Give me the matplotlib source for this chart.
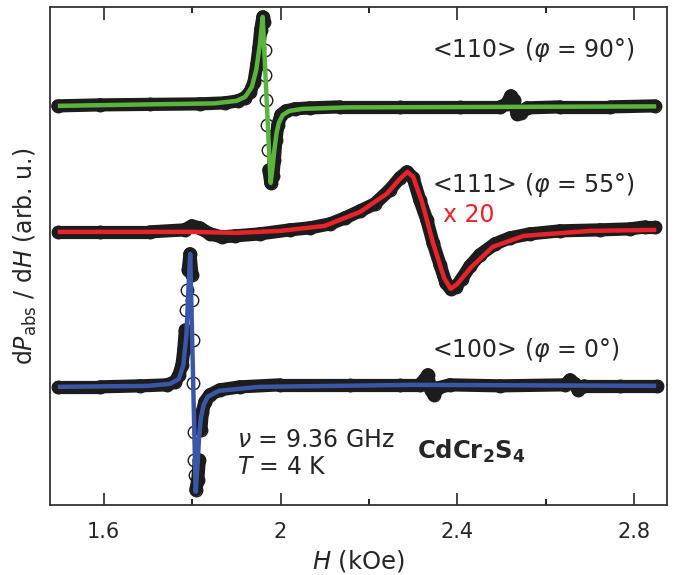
import matplotlib
matplotlib.use("Agg")
import matplotlib.pyplot as plt
from matplotlib.collections import LineCollection
import numpy as np

plt.rcParams['mathtext.fontset'] = 'dejavusans'
plt.rcParams['font.family'] = ['DejaVu Sans']

# ---------------- data ----------------
# <110> (phi = 90 deg), measured
g_H = [1.496, 1.591, 1.704, 1.817, 1.874, 1.903, 1.919, 1.931, 1.940, 1.946, 1.951,
       1.955, 1.960, 1.963, 1.9645, 1.9656, 1.9667, 1.969, 1.9713, 1.9735, 1.978,
       1.9826, 1.986, 1.9894, 1.994, 2.0007, 2.012, 2.0324, 2.066, 2.134, 2.270,
       2.406, 2.497, 2.512, 2.521, 2.528, 2.535, 2.544, 2.558, 2.632, 2.746, 2.847]
g_S = [-1, 0, 0.5, 1, 2, 4, 7, 13, 23, 40, 57,
       75, 88, 83, 55, 30, 5, -20, -45, -65, -78,
       -71, -55, -35, -20, -10, -6, -4, -3, -2, -2,
       -2, -2, 1, 9, 5, -9, -8, -3, -2, -2, -1]
# <110> fit
gf_H = [1.496, 1.70, 1.85, 1.90, 1.92, 1.935, 1.945, 1.953, 1.9595, 1.9775, 1.982,
        1.986, 1.991, 1.996, 2.005, 2.02, 2.05, 2.15, 2.5, 2.85]
gf_S = [-1, 0.5, 1.5, 4, 8, 18, 35, 60, 88, -78, -62,
        -45, -28, -18, -10, -6, -4, -2.5, -2, -1.5]

# <111> (phi = 55 deg), measured (x 20)
r_H = [1.496, 1.591, 1.704, 1.783, 1.799, 1.817, 1.840, 1.867, 1.897, 1.953, 2.021,
       2.066, 2.112, 2.146, 2.180, 2.213, 2.247, 2.270, 2.286, 2.300, 2.315, 2.331,
       2.345, 2.361, 2.374, 2.385, 2.397, 2.410, 2.429, 2.451, 2.485, 2.519, 2.564,
       2.632, 2.723, 2.791, 2.825, 2.848]
r_S = [0, 0, 0, 2, 6, 4, -2, -5, -4, -2, 2,
       4, 8, 14, 21, 28, 42, 54, 60, 54, 32, 12,
       -11, -33, -51, -57, -55, -47, -34, -23, -12, -6, -2,
       1, 2, 3, 5, 5]
# <111> fit
rf_H = [1.496, 1.80, 1.90, 2.00, 2.10, 2.18, 2.24, 2.27, 2.287, 2.30, 2.32, 2.345,
        2.37, 2.385, 2.40, 2.43, 2.48, 2.55, 2.70, 2.85]
rf_S = [0, 0, -1, 1, 6, 20, 38, 53, 60, 55, 30, -11,
        -46, -57, -52, -36, -15, -4, 1, 2]

# <100> (phi = 0 deg), measured
b_H = [1.496, 1.591, 1.682, 1.743, 1.761, 1.770, 1.777, 1.781, 1.7845, 1.787, 1.789,
       1.791, 1.795, 1.7995, 1.8004, 1.8015, 1.8026, 1.8037, 1.8049, 1.806, 1.8082,
       1.8127, 1.816, 1.8196, 1.823, 1.8287, 1.840, 1.8626, 1.908, 1.998, 2.157,
       2.270, 2.315, 2.327, 2.333, 2.340, 2.347, 2.356, 2.383, 2.497, 2.644, 2.655,
       2.666, 2.673, 2.687, 2.768, 2.852]
b_S = [-2, -2, -1, 0, 3, 10, 20, 35, 55, 75, 95,
       115, 131, 110, 85, 45, 2, -47, -75, -90, -105,
       -95, -75, -45, -27, -17, -10, -5, -2, 0, 0,
       0, 0, 6, 10, -5, -10, -3, 0, -1, 0, 5,
       1, -5, -1, -1, -1]
# <100> fit
bf_H = [1.496, 1.70, 1.75, 1.77, 1.78, 1.787, 1.792, 1.7955, 1.808, 1.812, 1.816,
        1.820, 1.826, 1.835, 1.86, 1.95, 2.30, 2.85]
bf_S = [-2, -1, 1, 6, 20, 50, 100, 131, -107, -80, -50,
        -32, -20, -12, -6, -2, 0, -1]

offsets = {'110': 400, '111': 273, '100': 120}
x_ticks = [1.6, 2.0, 2.4, 2.8]
x_tick_labels = ['1.6', '2', '2.4', '2.8']
x_minor = [1.8, 2.2, 2.6]

col_g = '#5ab53d'
col_r = '#e8232b'
col_b = '#3a56a7'
ink = '#262626'
dark = '#1c1c1c'

fig = plt.figure(figsize=(6.74, 5.75), dpi=100)
ax = fig.add_axes([0.074, 0.122, 0.916, 0.866])
ax.set_xlim(1.478, 2.875)
ax.set_ylim(0, 498)

def trace(H, S, Hf, Sf, off, col):
    H = np.asarray(H, float)
    y = np.asarray(S, float) + off
    yf = np.asarray(Sf, float) + off
    # dense-circle band: only where the trace is not steep (in pixels)
    pix = ax.transData.transform(np.column_stack([H, y]))
    segs = []
    for i in range(len(H) - 1):
        dx = abs(pix[i + 1, 0] - pix[i, 0])
        dy = abs(pix[i + 1, 1] - pix[i, 1])
        if dy <= 15 * max(dx, 1e-6) and dy < 30:
            segs.append([(H[i], y[i]), (H[i + 1], y[i + 1])])
    lc = LineCollection(segs, colors=dark, linewidths=9.5, capstyle='round',
                        joinstyle='round', zorder=2)
    ax.add_collection(lc)
    ax.plot(H, y, ls='none', marker='o', ms=9, mfc='none', mec=dark,
            mew=1.0, zorder=3)
    ax.plot(Hf, yf, color=col, lw=3.2, solid_capstyle='butt', zorder=4)

trace(g_H, g_S, gf_H, gf_S, offsets['110'], col_g)
trace(r_H, r_S, rf_H, rf_S, offsets['111'], col_r)
trace(b_H, b_S, bf_H, bf_S, offsets['100'], col_b)

ax.set_xticks(x_ticks)
ax.set_xticklabels(x_tick_labels)
ax.set_xticks(x_minor, minor=True)
ax.set_yticks([])
ax.tick_params(axis='x', which='major', direction='in', length=9, width=1.2,
               top=True, labelsize=15, colors=ink, pad=12)
ax.tick_params(axis='x', which='minor', direction='in', length=4.5, width=1.2,
               top=True)
for s in ax.spines.values():
    s.set_color('#333333')
    s.set_linewidth(1.3)

ax.set_xlabel('$H$ (kOe)', fontsize=17.5, color=ink, labelpad=5)
ax.set_ylabel(r'd$P_{\rm abs}$ / d$H$ (arb. u.)', fontsize=17, color=ink, labelpad=8)

tk = dict(fontsize=17, color=ink, va='center', ha='left')
ax.text(2.342, 455, r'<110> ($\varphi$ = 90°)', **tk)
ax.text(2.342, 320, r'<111> ($\varphi$ = 55°)', **tk)
ax.text(2.367, 290, 'x 20', fontsize=17, color=col_r, va='center', ha='left')
ax.text(2.342, 155, r'<100> ($\varphi$ = 0°)', **tk)
ax.text(1.901, 65, r'$\nu$ = 9.36 GHz', **tk)
ax.text(1.901, 38, r'$T$ = 4 K', **tk)
ax.text(2.309, 53, r'CdCr$_\mathbf{2}$S$_\mathbf{4}$', fontsize=17.5, color=ink,
        va='center', ha='left', fontweight='bold')

fig.savefig('out.png', dpi=100)
